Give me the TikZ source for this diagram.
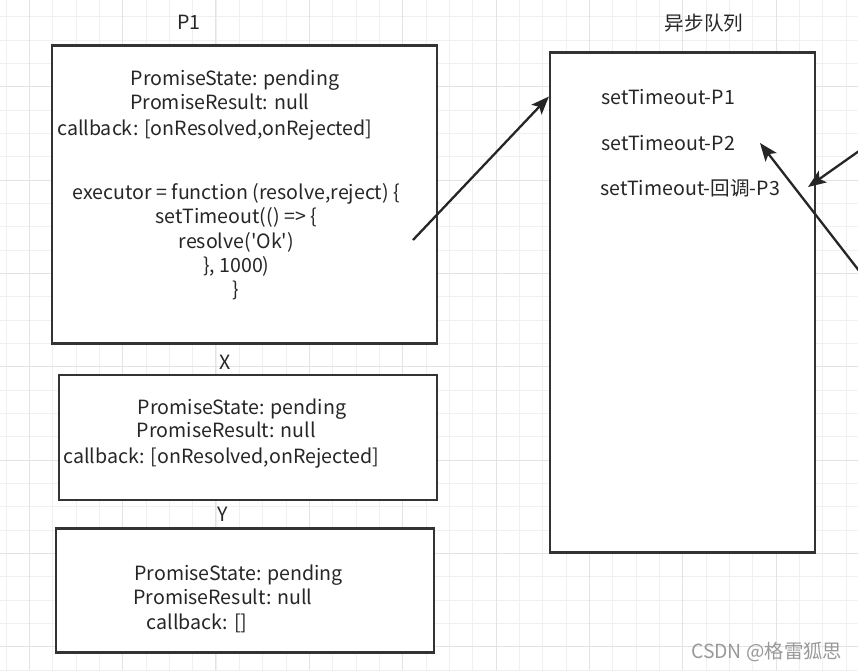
\documentclass[tikz,border=0pt]{standalone}
\usepackage{fontspec}
\setmainfont{Noto Sans CJK SC}
\usetikzlibrary{arrows.meta,positioning,calc}

\begin{document}
\begin{tikzpicture}[
    x=1pt, y=-1pt,
    >={Stealth[length=18pt,width=14pt,inset=4pt]},
    every node/.style={font=\fontsize{19.6}{23}\selectfont, text=black!85, inner sep=0pt},
    box/.style={draw=black!80, line width=2.2pt, fill=white, rectangle},
    line/.style={anchor=base west},
    code/.style={anchor=base},
    title/.style={anchor=base},
    link/.style={->, draw=black!85, line width=2.3pt},
    minorgrid/.style={draw=black!6, line width=1pt},
    majorgrid/.style={draw=black!11, line width=1pt}
]
    \useasboundingbox (0,0) rectangle (858,670);
    \fill[white] (0,0) rectangle (858,670);

    % background grid
    \foreach \k in {0,...,36}
        \draw[minorgrid] ({6+\k*23.333},0) -- ++(0,670);
    \foreach \k in {0,...,28}
        \draw[minorgrid] (0,{16.7+\k*23.333}) -- ++(858,0);
    \foreach \k in {0,...,9}
        \draw[majorgrid] ({29.33+\k*93.333},0) -- ++(0,670);
    \foreach \k in {0,...,6}
        \draw[majorgrid] (0,{86.67+\k*93.333}) -- ++(858,0);

    % promise objects
    \node[box, minimum width=385pt, minimum height=298pt] (p1) at (244.5,194.5) {};
    \node[box, minimum width=378pt, minimum height=125pt] (x) at (247.7,437.5) {};
    \node[box, minimum width=378pt, minimum height=124pt] (y) at (244.9,590.5) {};
    \node[title] (p1lbl) at (189,29.3) {P1};
    \node[title] (xlbl) at (225,369.3) {X};
    \node[title] (ylbl) at (222.7,521.7) {Y};

    \node[line] (p1s) at (130.7,85) {PromiseState: pending};
    \node[line] (p1r) at (130,109.3) {PromiseResult: null};
    \node[line] (p1c) at (57,135) {callback: [onResolved,onRejected]};
    \node[code] (c1) at (236.3,199.3) {executor = function (resolve,reject) \{};
    \node[code] (c2) at (236.3,223.3) {setTimeout(() => \{};
    \node[code] (c3) at (236.3,248.3) {resolve(\textquotesingle Ok\textquotesingle)};
    \node[code] (c4) at (236.3,272.7) {\}, 1000)};
    \node[code] (c5) at (236.3,296.5) {\}};

    \node[line] (xs) at (137.7,414) {PromiseState: pending};
    \node[line] (xr) at (136.7,437.3) {PromiseResult: null};
    \node[line] (xc) at (63.3,463.3) {callback: [onResolved,onRejected]};

    \node[line] (ys) at (134.3,580) {PromiseState: pending};
    \node[line] (yr) at (133.3,604.3) {PromiseResult: null};
    \node[line] (yc) at (146.7,629.3) {callback: []};

    % async queue
    \node[box, minimum width=265pt, minimum height=500pt] (q) at (682.5,302.5) {};
    \node (qlbl) at (704,23) {异步队列};
    \node[line] (t1) at (601,104) {setTimeout-P1};
    \node[line] (t2) at (601,150) {setTimeout-P2};
    \node[line] (t3) at (600,195.7) {setTimeout-回调-P3};

    % arrows
    \coordinate (exec) at (413,240);
    \coordinate (t2tip) at (760,143);
    \coordinate (t3tip) at (808,187);
    \coordinate (r2) at (880,297.8);
    \coordinate (r3) at (880,136.2);
    \draw[link] (exec) -- (q.west |- t1.west);
    \draw[link] (r2) -- (t2tip);
    \draw[link] (r3) -- (t3tip);

    \node[text=black!40, font=\fontsize{19.4}{22}\selectfont] (wm) at (766.7,651.7) {CSDN @格雷狐思};
\end{tikzpicture}
\end{document}
